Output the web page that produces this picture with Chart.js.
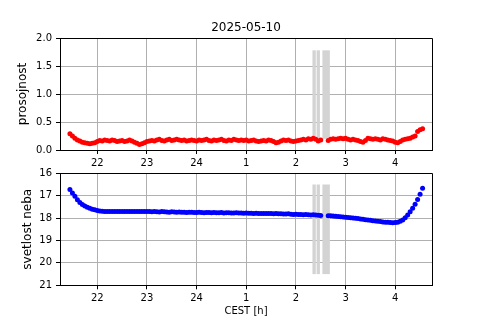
<!DOCTYPE html>
<html>
<head>
<meta charset="utf-8">
<script src="https://cdn.jsdelivr.net/npm/chart.js@4"></script>
<style>
    body { margin: 0; background: #fff; }
    canvas { position: absolute; left: 0; }
    #topChart { top: 0; }
    #bottomChart { top: 160px; }
</style>
</head>
<body>
<canvas id="topChart" width="480" height="172"></canvas>
<canvas id="bottomChart" width="480" height="160"></canvas>
<script>
/* ============================
   Nocna meritev - prosojnost & svetlost neba
   ============================ */

// 3-minute samples, CEST
const times = [
    '21:27','21:30','21:33','21:36','21:39','21:42','21:45','21:48','21:51','21:54','21:57',
    '22:00','22:03','22:06','22:09','22:12','22:15','22:18','22:21','22:24','22:27','22:30','22:33','22:36','22:39','22:42','22:45','22:48','22:51','22:54','22:57',
    '23:00','23:03','23:06','23:09','23:12','23:15','23:18','23:21','23:24','23:27','23:30','23:33','23:36','23:39','23:42','23:45','23:48','23:51','23:54','23:57',
    '00:00','00:03','00:06','00:09','00:12','00:15','00:18','00:21','00:24','00:27','00:30','00:33','00:36','00:39','00:42','00:45','00:48','00:51','00:54','00:57',
    '01:00','01:03','01:06','01:09','01:12','01:15','01:18','01:21','01:24','01:27','01:30','01:33','01:36','01:39','01:42','01:45','01:48','01:51','01:54','01:57',
    '02:00','02:03','02:06','02:09','02:12','02:15','02:18','02:21','02:24','02:27','02:30','02:33','02:36','02:39','02:42','02:45','02:48','02:51','02:54','02:57',
    '03:00','03:03','03:06','03:09','03:12','03:15','03:18','03:21','03:24','03:27','03:30','03:33','03:36','03:39','03:42','03:45','03:48','03:51','03:54','03:57',
    '04:00','04:03','04:06','04:09','04:12','04:15','04:18','04:21','04:24','04:27','04:30','04:33'
];

const prosojnost = [
    0.29,0.25,0.21,0.18,0.16,0.14,0.13,0.12,0.11,0.12,0.13,
    0.15,0.17,0.16,0.18,0.17,0.16,0.18,0.17,0.15,0.16,0.17,0.15,0.16,0.18,0.16,0.14,0.12,0.10,0.11,0.13,
    0.15,0.16,0.17,0.16,0.18,0.19,0.17,0.16,0.18,0.19,0.17,0.18,0.19,0.18,0.17,0.18,0.16,0.17,0.18,0.17,
    0.16,0.18,0.17,0.18,0.19,0.17,0.16,0.18,0.17,0.18,0.19,0.17,0.16,0.18,0.17,0.19,0.18,0.17,0.18,0.17,
    0.18,0.16,0.17,0.18,0.16,0.15,0.16,0.17,0.16,0.18,0.17,0.15,0.13,0.14,0.16,0.18,0.17,0.18,0.16,0.15,
    0.16,0.17,0.18,0.19,0.18,0.20,0.19,0.21,0.19,0.16,0.18,null,null,0.17,0.19,0.20,0.19,0.20,0.21,0.20,
    0.21,0.19,0.18,0.19,0.18,0.17,0.15,0.14,0.17,0.21,0.20,0.19,0.20,0.19,0.18,0.20,0.19,0.18,0.17,0.16,
    0.14,0.13,0.15,0.18,0.19,0.20,0.21,0.23,0.25,0.33,0.36,0.38
];

const svetlost = [
    16.72,16.88,17.03,17.18,17.30,17.39,17.46,17.52,17.56,17.60,17.63,
    17.66,17.68,17.69,17.70,17.70,17.71,17.70,17.70,17.71,17.70,17.70,17.71,17.70,17.70,17.71,17.70,17.70,17.71,17.70,17.70,
    17.71,17.70,17.72,17.71,17.72,17.73,17.71,17.72,17.73,17.74,17.72,17.73,17.74,17.73,17.74,17.74,17.75,17.74,17.74,17.75,
    17.75,17.74,17.75,17.76,17.75,17.75,17.76,17.75,17.76,17.76,17.75,17.77,17.76,17.76,17.77,17.77,17.76,17.77,17.77,17.78,
    17.77,17.78,17.78,17.79,17.78,17.79,17.79,17.80,17.79,17.80,17.80,17.81,17.80,17.81,17.81,17.82,17.82,17.81,17.83,17.84,
    17.83,17.84,17.84,17.85,17.84,17.85,17.86,17.85,17.86,17.87,17.88,null,null,17.89,17.90,17.91,17.92,17.93,17.94,17.95,
    17.96,17.97,17.98,17.99,18.01,18.02,18.04,18.05,18.07,18.09,18.10,18.12,18.13,18.14,18.15,18.17,18.18,18.19,18.20,18.21,
    18.20,18.18,18.14,18.08,17.98,17.86,17.72,17.56,17.38,17.17,16.93,16.67
];

// hours after midnight are shown as 25, 26, ... on the axis
const xTicks = [22, 23, 24, 25, 26, 27, 28];
const xTickLabels = ['22', '23', '24', '1', '2', '3', '4'];

// cloudy intervals (grey bands)
const cloudSpans = [['02:20', '02:24'], ['02:25', '02:29'], ['02:32', '02:41']];
const cloudRangeTop = [0.2, 1.78];
const cloudRangeBottom = [16.5, 20.5];

const toHours = (s) => {
    const [h, m] = s.split(':').map(Number);
    return (h < 12 ? h + 24 : h) + m / 60;
};

Chart.defaults.font.family = 'DejaVu Sans';
Chart.defaults.font.size = 10;
Chart.defaults.color = '#000';
Chart.defaults.animation = false;

const clouds = {
    id: 'clouds',
    beforeDatasetsDraw(chart, args, opts) {
        const { ctx, scales: { x, y } } = chart;
        ctx.save();
        ctx.fillStyle = '#d3d3d3';
        cloudSpans.forEach(([a, b]) => {
            const x0 = x.getPixelForValue(toHours(a));
            const x1 = x.getPixelForValue(toHours(b));
            const y0 = y.getPixelForValue(opts.range[0]);
            const y1 = y.getPixelForValue(opts.range[1]);
            ctx.fillRect(x0, Math.min(y0, y1), x1 - x0, Math.abs(y1 - y0));
        });
        ctx.restore();
    },
    afterDraw(chart) {
        // top + right spines
        const { ctx, chartArea: a } = chart;
        ctx.save();
        ctx.strokeStyle = '#000';
        ctx.lineWidth = 1;
        ctx.beginPath();
        ctx.moveTo(Math.round(a.left) + 0.5, Math.round(a.top) + 0.5);
        ctx.lineTo(Math.round(a.right) + 0.5, Math.round(a.top) + 0.5);
        ctx.lineTo(Math.round(a.right) + 0.5, Math.round(a.bottom) + 0.5);
        ctx.stroke();
        ctx.restore();
    }
};

function xAxis(height, title) {
    return {
        type: 'linear', min: 21.25, max: 28.74,
        afterBuildTicks: s => { s.ticks = xTicks.map(v => ({ value: v })); },
        afterFit: s => { s.height = height; },
        ticks: { callback: (v, i) => xTickLabels[i], padding: 3, maxRotation: 0, autoSkip: false },
        grid: { color: '#b0b0b0', tickColor: '#000', tickLength: 4 },
        border: { color: '#000' },
        title: title
            ? { display: true, text: title, font: { size: 10 }, padding: { top: 0, bottom: 2.3 } }
            : { display: false }
    };
}

// top axis only carries the date title, centred over the plot
const titleAxis = {
    type: 'linear', position: 'top', min: 21.25, max: 28.74,
    afterFit: s => { s.height = 38; },
    ticks: { display: false },
    grid: { display: false, drawTicks: false },
    border: { display: false },
    title: { display: true, text: '2025-05-10', font: { size: 12 }, padding: { top: 20.3, bottom: 0 } }
};

function yAxis(opts, label, pad) {
    return Object.assign({
        afterFit: s => { s.width = 60; },
        grid: { color: '#b0b0b0', tickColor: '#000', tickLength: 4 },
        border: { color: '#000' },
        title: { display: true, text: label, font: { size: 12 }, padding: { top: pad, bottom: 0 } }
    }, opts);
}

function series(values, color) {
    return [{
        data: times.map((t, i) => ({ x: toHours(t), y: values[i] })),
        backgroundColor: color,
        pointRadius: 2.5, pointBorderWidth: 0, pointHoverRadius: 2.5,
        showLine: false
    }];
}

new Chart(document.getElementById('topChart'), {
    type: 'scatter',
    data: { datasets: series(prosojnost, '#ff0000') },
    plugins: [clouds],
    options: {
        responsive: false,
        layout: { padding: { left: 0, right: 48, top: 0, bottom: 0 } },
        plugins: {
            legend: { display: false }, tooltip: { enabled: false },
            clouds: { range: cloudRangeTop }
        },
        scales: {
            x: xAxis(22, null),
            xTitle: titleAxis,
            y: yAxis({ min: 0, max: 2, ticks: { stepSize: 0.5, padding: 4, callback: v => v.toFixed(1) } }, 'prosojnost', 15.8)
        }
    }
});

new Chart(document.getElementById('bottomChart'), {
    type: 'scatter',
    data: { datasets: series(svetlost, '#0000ff') },
    plugins: [clouds],
    options: {
        responsive: false,
        layout: { padding: { left: 0, right: 48, top: 13.3, bottom: 0 } },
        plugins: {
            legend: { display: false }, tooltip: { enabled: false },
            clouds: { range: cloudRangeBottom }
        },
        scales: {
            x: xAxis(34.7, 'CEST [h]'),
            y: yAxis({ min: 16, max: 21, reverse: true, ticks: { stepSize: 1, padding: 4 } }, 'svetlost neba', 20.8)
        }
    }
});
</script>
</body>
</html>
